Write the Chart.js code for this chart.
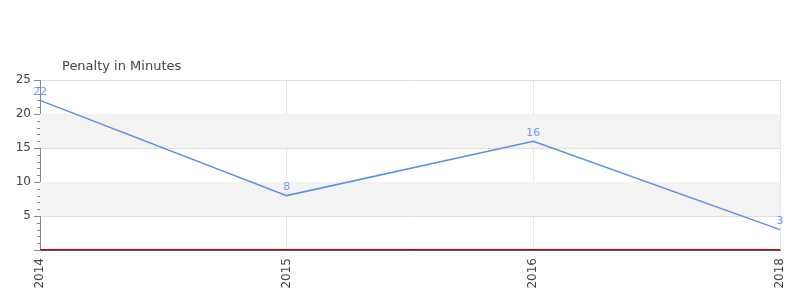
<!DOCTYPE html>
<html>
<head>
<meta charset="utf-8">
<script src="https://cdn.jsdelivr.net/npm/chart.js@4/dist/chart.umd.min.js"></script>
<style>
  html, body { margin: 0; padding: 0; background: #fff; }
  #wrap { width: 800px; height: 300px; }
</style>
</head>
<body>
<div id="wrap"><canvas id="penalty-chart" width="800" height="300"></canvas></div>
<script>
const years = ['2014', '2015', '2016', '2018'];
const penaltyMinutes = [22, 8, 16, 3];
const yTicks = [5, 10, 15, 20, 25];
const bands = [[5, 10], [15, 20]];
const chartTitle = 'Penalty in Minutes';

const FONT = '"DejaVu Sans", Verdana, sans-serif';

// grey bands, red zero line, tick marks, title, value labels
const extras = {
  id: 'extras',
  beforeDatasetsDraw(chart) {
    const ctx = chart.ctx;
    const area = chart.chartArea;
    const y = chart.scales.y;
    ctx.save();
    ctx.fillStyle = '#f3f3f3';
    bands.forEach(b => {
      const top = y.getPixelForValue(b[1]);
      const bot = y.getPixelForValue(b[0]);
      ctx.fillRect(area.left, top, area.right - area.left, bot - top);
    });
    ctx.restore();
  },
  afterDatasetsDraw(chart) {
    const ctx = chart.ctx;
    const area = chart.chartArea;
    const y = chart.scales.y;
    ctx.save();
    // zero line
    ctx.strokeStyle = '#d40000';
    ctx.lineWidth = 1;
    const zy = Math.round(y.getPixelForValue(0)) - 0.5;
    ctx.beginPath();
    ctx.moveTo(area.left, zy);
    ctx.lineTo(area.right, zy);
    ctx.stroke();
    // y tick marks, major every 5, minor every 1
    ctx.strokeStyle = '#888';
    ctx.lineWidth = 1;
    for (let v = 0; v <= 25; v++) {
      const py = Math.round(y.getPixelForValue(v)) + 0.5;
      const len = v % 5 === 0 ? 6 : 3;
      ctx.beginPath();
      ctx.moveTo(area.left - len, py);
      ctx.lineTo(area.left, py);
      ctx.stroke();
    }
    // value labels
    const meta = chart.getDatasetMeta(0);
    ctx.fillStyle = '#6d9cee';
    ctx.font = '11px ' + FONT;
    ctx.textAlign = 'center';
    ctx.textBaseline = 'bottom';
    meta.data.forEach((pt, i) => {
      ctx.fillText(String(penaltyMinutes[i]), pt.x, pt.y - 3);
    });
    // title
    ctx.fillStyle = '#444';
    ctx.font = '13px ' + FONT;
    ctx.textAlign = 'left';
    ctx.textBaseline = 'middle';
    ctx.fillText(chartTitle, area.left + 22, 67);
    ctx.restore();
  }
};

const ctx = document.getElementById('penalty-chart').getContext('2d');
const penaltyChart = new Chart(ctx, {
  type: 'line',
  data: {
    labels: years,
    datasets: [{
      label: chartTitle,
      data: penaltyMinutes,
      borderColor: '#5b8ee6',
      borderWidth: 1.5,
      pointRadius: 0,
      tension: 0,
      fill: false
    }]
  },
  options: {
    responsive: false,
    animation: false,
    layout: {
      padding: { top: 80, right: 20, left: 0, bottom: 0 }
    },
    scales: {
      x: {
        grid: {
          color: '#e6e6e6',
          drawTicks: false,
          offset: false
        },
        border: { color: '#555', width: 1 },
        ticks: {
          color: '#444',
          font: { family: FONT, size: 12 },
          minRotation: 90,
          maxRotation: 90,
          padding: 8
        },
        afterFit(scale) {
          scale.height = 50;
          scale.paddingLeft = 0;
          scale.paddingRight = 0;
        }
      },
      y: {
        min: 0,
        max: 25,
        grid: {
          color: ctx => (ctx.tick && yTicks.includes(ctx.tick.value)) ? '#e0e0e0' : 'rgba(0,0,0,0)',
          drawTicks: false
        },
        border: { color: '#888', width: 1 },
        ticks: {
          stepSize: 1,
          autoSkip: false,
          color: '#444',
          font: { family: FONT, size: 12 },
          padding: 9,
          callback: v => yTicks.includes(v) ? String(v) : ''
        },
        afterFit(scale) { scale.width = 40; }
      }
    },
    plugins: {
      legend: { display: false },
      tooltip: { enabled: false }
    }
  },
  plugins: [extras]
});
</script>
</body>
</html>
